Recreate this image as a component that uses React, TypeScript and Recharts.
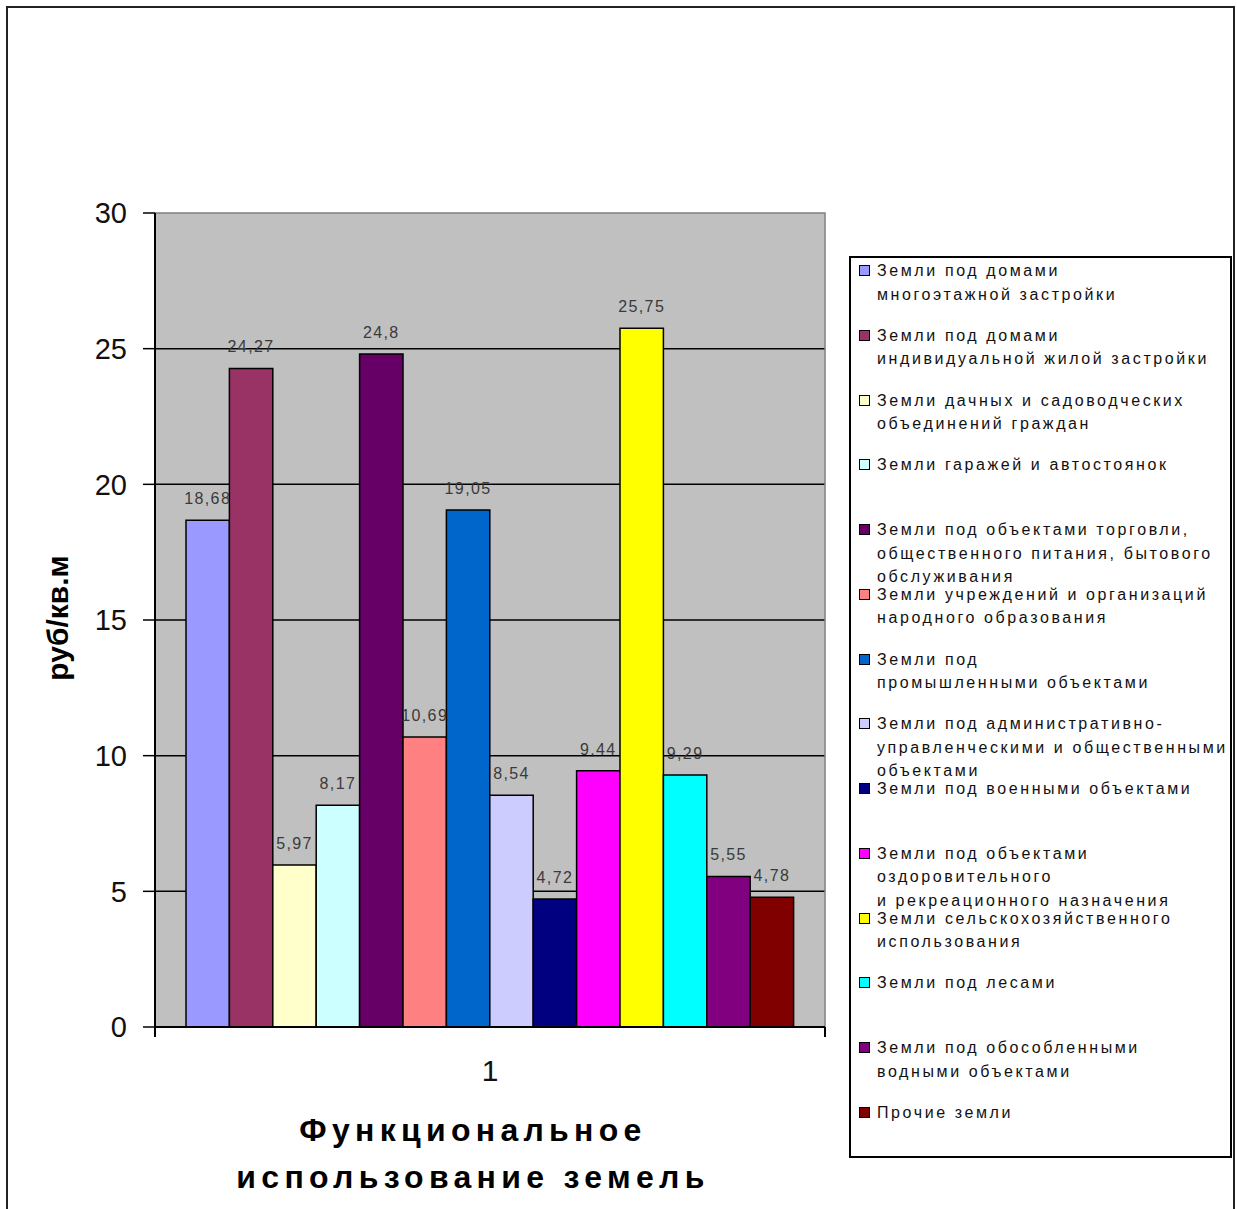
import React from "react";
import {
  BarChart,
  Bar,
  XAxis,
  YAxis,
  CartesianGrid,
  LabelList,
  ReferenceArea,
} from "recharts";

const categories = ["1"];

const seriesNames = [
  "Земли под домами\nмногоэтажной застройки",
  "Земли под домами\nиндивидуальной жилой застройки",
  "Земли дачных и садоводческих\nобъединений граждан",
  "Земли гаражей и автостоянок",
  "Земли под объектами торговли,\nобщественного питания, бытового\nобслуживания",
  "Земли учреждений и организаций\nнародного образования",
  "Земли под\nпромышленными объектами",
  "Земли под административно-\nуправленческими и общественными\nобъектами",
  "Земли под военными объектами",
  "Земли под объектами\nоздоровительного\nи рекреационного назначения",
  "Земли сельскохозяйственного\nиспользования",
  "Земли под лесами",
  "Земли под обособленными\nводными объектами",
  "Прочие земли",
];

const seriesValues = [
  18.68, 24.27, 5.97, 8.17, 24.8, 10.69, 19.05, 8.54, 4.72, 9.44, 25.75, 9.29,
  5.55, 4.78,
];

const seriesColors = [
  "#9999FF",
  "#993366",
  "#FFFFCC",
  "#CCFFFF",
  "#660066",
  "#FF8080",
  "#0066CC",
  "#CCCCFF",
  "#000080",
  "#FF00FF",
  "#FFFF00",
  "#00FFFF",
  "#800080",
  "#800000",
];

const yTicks = [0, 5, 10, 15, 20, 25, 30];
const gridValues = [5, 10, 15, 20, 25];

// chart frame
const W = 1237;
const H = 1209;
const PLOT_LEFT = 155;
const PLOT_RIGHT = 825;
const PLOT_TOP = 213;
const PLOT_BOTTOM = 1027;
const X_AXIS_H = 60;

const FONT = "Arial, 'Liberation Sans', sans-serif";

const data = categories.map((name) => {
  const row: Record<string, string | number> = { name };
  seriesValues.forEach((v, i) => {
    row[`s${i}`] = v;
  });
  return row;
});

const formatValue = (v: number) => String(v).replace(".", ",");

const ValueLabel = (props: any) => {
  const { x, y, width, value } = props;
  return (
    <text
      x={Number(x) + Number(width) / 2}
      y={Number(y) - 16}
      textAnchor="middle"
      fontFamily={FONT}
      fontSize={16}
      letterSpacing={1.4}
      fill="#3a3a3a"
    >
      {formatValue(value)}
    </text>
  );
};

const CategoryTick = (props: any) => {
  const { x, payload } = props;
  return (
    <g>
      <line x1={PLOT_LEFT} y1={PLOT_BOTTOM} x2={PLOT_LEFT} y2={PLOT_BOTTOM + 10} stroke="#000" strokeWidth={2} />
      <line x1={PLOT_RIGHT} y1={PLOT_BOTTOM} x2={PLOT_RIGHT} y2={PLOT_BOTTOM + 10} stroke="#000" strokeWidth={2} />
      <text
        x={x}
        y={PLOT_BOTTOM + 54}
        textAnchor="middle"
        fontFamily={FONT}
        fontSize={30}
        fill="#111"
      >
        {payload.value}
      </text>
    </g>
  );
};

const YTitle = () => (
  <text
    transform={`translate(68, 618) rotate(-90)`}
    textAnchor="middle"
    fontFamily={FONT}
    fontSize={30}
    fontWeight="bold"
    fill="#000"
  >
    руб/кв.м
  </text>
);

const Legend = () => (
  <div
    style={{
      position: "absolute",
      left: 849,
      top: 256,
      width: 383,
      height: 902,
      border: "2px solid #000",
      boxSizing: "border-box",
      background: "#fff",
    }}
  >
    {seriesNames.map((name, i) => (
      <div
        key={i}
        style={{
          position: "absolute",
          left: 0,
          top: 1 + i * 64.75,
          width: 381,
        }}
      >
        <div
          style={{
            position: "absolute",
            left: 8,
            top: 6,
            width: 9,
            height: 9,
            background: seriesColors[i],
            border: "1px solid #000",
          }}
        />
        <div
          style={{
            position: "absolute",
            left: 26,
            top: 0,
            whiteSpace: "pre",
            fontFamily: FONT,
            fontSize: 16,
            lineHeight: "23.5px",
            letterSpacing: 2.6,
            color: "#111",
          }}
        >
          {name}
        </div>
      </div>
    ))}
  </div>
);

export default function App() {
  return (
    <div
      style={{
        position: "absolute",
        left: 0,
        top: 0,
        width: W,
        height: H,
        overflow: "hidden",
        background: "#fff",
      }}
    >
      <div
        style={{
          position: "absolute",
          left: 6,
          top: 6,
          width: 1229,
          height: 1240,
          border: "2px solid #222",
          boxSizing: "border-box",
        }}
      />
      <div style={{ position: "absolute", left: 0, top: 0 }}>
        <BarChart
          width={W}
          height={H}
          data={data}
          margin={{
            top: PLOT_TOP,
            right: W - PLOT_RIGHT,
            bottom: H - PLOT_BOTTOM - X_AXIS_H,
            left: 0,
          }}
          barSize={43.4}
          barGap={0}
        >
          <CartesianGrid
            vertical={false}
            horizontalValues={gridValues}
            stroke="#000"
            strokeWidth={1.5}
            fill="#C0C0C0"
            fillOpacity={1}
          />
          <ReferenceArea
            y1={0}
            y2={30}
            fill="none"
            stroke="#808080"
            strokeWidth={1.5}
            ifOverflow="visible"
          />
          <XAxis
            dataKey="name"
            height={X_AXIS_H}
            axisLine={{ stroke: "#000", strokeWidth: 2 }}
            tickLine={false}
            tick={<CategoryTick />}
            interval={0}
          />
          <YAxis
            width={PLOT_LEFT}
            domain={[0, 30]}
            ticks={yTicks}
            interval={0}
            tickSize={12}
            tickMargin={16}
            axisLine={{ stroke: "#000", strokeWidth: 2 }}
            tickLine={{ stroke: "#000", strokeWidth: 1.5 }}
            tick={{ fontFamily: FONT, fontSize: 29, fill: "#111" }}
          />
          {seriesValues.map((_, i) => (
            <Bar
              key={i}
              dataKey={`s${i}`}
              fill={seriesColors[i]}
              stroke="#000"
              strokeWidth={1.5}
              isAnimationActive={false}
            >
              <LabelList dataKey={`s${i}`} content={<ValueLabel />} />
            </Bar>
          ))}
          <YTitle />
        </BarChart>
      </div>
      <div
        style={{
          position: "absolute",
          left: 473,
          top: 1107,
          transform: "translateX(-50%)",
          textAlign: "center",
          whiteSpace: "pre",
          fontFamily: FONT,
          fontWeight: "bold",
          fontSize: 32,
          lineHeight: "47px",
          letterSpacing: 5.3,
          color: "#000",
        }}
      >
        {"Функциональное\nиспользование земель"}
      </div>
      <Legend />
    </div>
  );
}
